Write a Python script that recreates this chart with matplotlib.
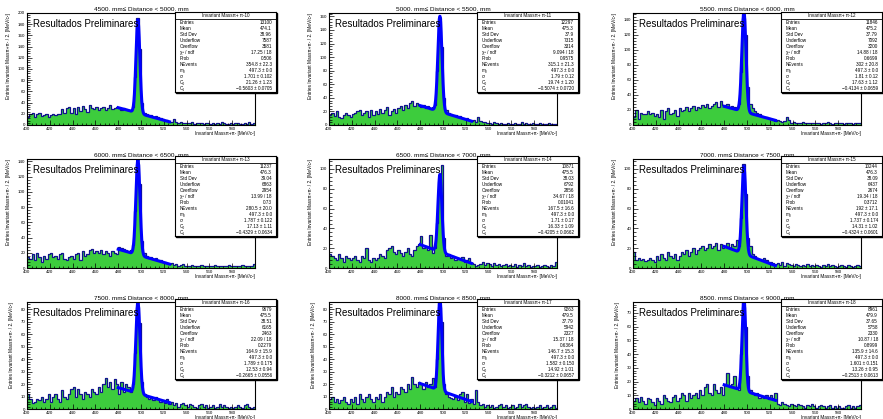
import numpy as np
import matplotlib.pyplot as plt
from matplotlib.ticker import MultipleLocator, AutoMinorLocator
from matplotlib.patches import Rectangle

plt.rcParams['font.family'] = ['Liberation Sans', 'DejaVu Sans']

W, H = 883, 419
edges = np.arange(400, 602, 2)

dist_lo = [4500, 5000, 5500, 6000, 6500, 7000, 7500, 8000, 8500]
hist_id = [10, 11, 12, 13, 14, 15, 16, 17, 18]

# bin contents (2 MeV bins, 400-600)
counts_1 = [15, 20, 22, 14, 20, 22, 16, 18, 20, 15,
            18, 20, 17, 19, 20, 28, 22, 30, 33, 22,
            30, 20, 32, 25, 34, 28, 24, 35, 30, 28,
            32, 26, 30, 33, 27, 31, 35, 28, 30, 33,
            30, 27, 30, 28, 26, 25, 32, 85, 191, 135,
            40, 22, 20, 18, 17, 15, 16, 14, 13, 10,
            8, 9, 6, 5, 10, 5, 4, 6, 3, 4,
            4, 3, 5, 2, 3, 4, 3, 2, 4, 3,
            2, 3, 1, 4, 2, 5, 3, 2, 1, 3,
            2, 3, 4, 2, 1, 3, 2, 6, 2, 3]
counts_2 = [15, 18, 13, 20, 12, 10, 15, 18, 14, 12,
            16, 18, 20, 22, 14, 18, 20, 12, 22, 15,
            20, 16, 24, 18, 22, 26, 15, 20, 24, 18,
            25, 28, 22, 30, 25, 32, 35, 28, 33, 30,
            26, 30, 25, 28, 24, 26, 30, 80, 158, 115,
            40, 22, 18, 16, 15, 14, 12, 13, 10, 9,
            10, 8, 6, 7, 5, 12, 6, 4, 5, 3,
            3, 2, 4, 3, 2, 3, 1, 2, 3, 2,
            2, 3, 1, 2, 4, 2, 3, 1, 2, 3,
            2, 1, 3, 2, 2, 1, 3, 2, 1, 2]
counts_3 = [10, 20, 8, 16, 14, 15, 18, 14, 16, 12,
            15, 10, 20, 8, 18, 22, 14, 16, 20, 12,
            22, 18, 20, 24, 18, 22, 25, 20, 24, 22,
            26, 24, 28, 22, 25, 28, 30, 24, 32, 27,
            26, 28, 22, 25, 24, 22, 28, 70, 142, 120,
            50, 28, 22, 18, 16, 14, 12, 10, 10, 9,
            8, 6, 5, 6, 5, 4, 5, 10, 6, 3,
            4, 3, 2, 3, 4, 2, 3, 2, 3, 2,
            3, 2, 1, 2, 3, 4, 2, 1, 2, 3,
            2, 3, 1, 2, 3, 2, 1, 2, 3, 2]
counts_4 = [15, 12, 18, 10, 20, 15, 8, 16, 12, 18,
            20, 14, 16, 12, 18, 20, 12, 10, 14, 16,
            12, 18, 20, 10, 22, 16, 18, 24, 25, 20,
            22, 20, 24, 18, 22, 20, 16, 22, 20, 18,
            28, 26, 25, 24, 22, 24, 30, 75, 136, 110,
            35, 20, 16, 15, 14, 12, 13, 11, 10, 8,
            8, 6, 5, 6, 4, 5, 3, 4, 5, 3,
            2, 3, 4, 2, 3, 2, 4, 3, 2, 3,
            3, 2, 4, 3, 2, 3, 2, 3, 4, 2,
            3, 2, 3, 2, 4, 3, 2, 3, 2, 5]
counts_5 = [14, 12, 10, 8, 14, 10, 6, 12, 10, 8,
            10, 12, 8, 6, 12, 10, 20, 8, 6, 10,
            8, 10, 14, 12, 10, 18, 20, 22, 16, 14,
            18, 15, 12, 16, 20, 14, 12, 18, 22, 24,
            32, 20, 22, 18, 33, 15, 20, 45, 80, 104,
            30, 12, 14, 10, 12, 8, 10, 9, 11, 6,
            8, 10, 5, 4, 2, 3, 4, 6, 3, 5,
            4, 2, 5, 3, 4, 2, 3, 4, 2, 3,
            2, 4, 1, 3, 2, 5, 2, 3, 1, 2,
            2, 3, 1, 2, 3, 2, 1, 3, 2, 6]
counts_6 = [16, 8, 10, 8, 9, 7, 8, 10, 8, 6,
            12, 8, 14, 10, 8, 16, 12, 10, 14, 8,
            12, 16, 14, 18, 12, 16, 20, 14, 18, 20,
            22, 18, 20, 24, 20, 22, 25, 18, 24, 20,
            22, 25, 20, 24, 22, 28, 22, 50, 105, 75,
            30, 22, 14, 12, 10, 9, 8, 10, 8, 6,
            6, 5, 4, 5, 3, 6, 2, 5, 4, 3,
            2, 4, 3, 2, 3, 2, 4, 2, 3, 2,
            3, 2, 1, 3, 2, 4, 2, 3, 2, 1,
            2, 3, 2, 1, 3, 2, 1, 2, 3, 2]
counts_7 = [12, 8, 5, 6, 8, 7, 10, 6, 8, 12,
            6, 10, 12, 8, 6, 15, 10, 8, 12, 16,
            18, 10, 16, 12, 8, 14, 12, 10, 16, 14,
            12, 18, 14, 20, 25, 18, 22, 16, 24, 20,
            12, 22, 14, 20, 18, 14, 20, 45, 82, 69,
            22, 12, 10, 8, 9, 7, 10, 8, 6, 7,
            5, 8, 4, 6, 3, 5, 2, 4, 5, 3,
            2, 4, 3, 2, 1, 3, 4, 2, 3, 1,
            2, 3, 1, 2, 4, 2, 3, 2, 1, 2,
            1, 2, 3, 2, 1, 3, 4, 2, 1, 2]
counts_8 = [8, 10, 6, 8, 5, 7, 10, 6, 4, 8,
            6, 10, 4, 12, 8, 6, 10, 12, 8, 6,
            10, 8, 12, 6, 10, 14, 12, 18, 10, 14,
            12, 18, 16, 14, 20, 16, 26, 20, 18, 22,
            20, 16, 22, 18, 20, 25, 18, 40, 82, 70,
            20, 12, 10, 9, 8, 10, 7, 12, 14, 6,
            12, 5, 8, 4, 15, 6, 3, 4, 2, 3,
            2, 3, 1, 2, 3, 4, 2, 3, 1, 2,
            3, 1, 2, 4, 2, 3, 4, 2, 1, 2,
            1, 2, 3, 1, 2, 3, 1, 2, 3, 1]
counts_9 = [6, 8, 5, 9, 6, 4, 8, 7, 5, 3,
            8, 6, 4, 10, 8, 6, 5, 9, 10, 6,
            8, 12, 10, 6, 12, 8, 10, 12, 8, 14,
            10, 16, 18, 12, 10, 18, 14, 12, 16, 10,
            18, 26, 16, 18, 24, 15, 14, 40, 74, 60,
            24, 14, 12, 10, 12, 8, 9, 8, 10, 7,
            10, 8, 12, 4, 3, 5, 4, 3, 2, 4,
            3, 2, 4, 3, 2, 1, 3, 2, 4, 2,
            1, 2, 3, 2, 1, 2, 3, 1, 2, 1,
            2, 1, 1, 2, 3, 1, 2, 1, 2, 3]
counts = [counts_1, counts_2, counts_3, counts_4, counts_5,
          counts_6, counts_7, counts_8, counts_9]

# stats box values
entries = [13100, 12297, 11846, 11237, 10871, 10244, 9679, 9263, 8961]
means = ['474.1', '475.3', '475.2', '476.3', '475.5', '476.3', '475.5', '479.5', '479.9']
stddevs = ['38.96', '37.9', '37.79', '39.04', '38.03', '38.09', '38.51', '37.79', '37.65']
underflow = [7587, 7315, 7092, 6863, 6792, 6437, 6165, 5942, 5758]
overflow = [3581, 3314, 3200, 2954, 2856, 2674, 2463, 2327, 2330]
chi2 = ['17.25', '9.094', '14.88', '13.99', '34.67', '19.34', '22.09', '15.37', '10.87']
prob = ['0.506', '0.9575', '0.6699', '0.73', '0.01041', '0.3712', '0.2279', '0.6364', '0.8999']

# fit parameters
nevents = [354.8, 315.1, 302, 280.5, 167.5, 192, 164.9, 146.7, 135.9]
nevents_err = ['22.3', '21.3', '20.8', '20.0', '16.6', '17.1', '15.9', '15.3', '14.6']
m0 = [497.3] * 9
sigma = [1.701, 1.79, 1.81, 1.787, 1.71, 1.737, 1.789, 1.582, 1.601]
sigma_err = ['0.102', '0.12', '0.12', '0.122', '0.17', '0.174', '0.175', '0.150', '0.151']
c0 = [21.26, 19.74, 17.63, 17.13, 16.33, 14.31, 12.53, 14.92, 13.26]
c0_err = ['1.23', '1.20', '1.12', '1.11', '1.09', '1.02', '0.94', '1.01', '0.95']
c1 = [-0.5603, -0.5074, -0.4134, -0.4329, -0.4205, -0.4324, -0.2665, -0.3212, -0.2513]
c1_err = ['0.0705', '0.0720', '0.0659', '0.0634', '0.0662', '0.0601', '0.0556', '0.0657', '0.0613']

ymax = [200, 165, 149, 143, 110, 110, 86, 86, 78]
ystep = [20, 20, 20, 20, 20, 20, 10, 10, 10]

green = '#3dcc3d'
navy = '#101090'

col_left = [27, 329, 633]
row_top = [13, 159, 302]
row_bot = [125, 268, 409]
ax_w = 228

fig = plt.figure(figsize=(W / 100, H / 100), dpi=100)

for i in range(9):
    r, c = i // 3, i % 3
    x0, y0, y1 = col_left[c], row_top[r], row_bot[r]
    ax = fig.add_axes([x0 / W, 1 - y1 / H, ax_w / W, (y1 - y0) / H])

    ax.stairs(counts[i], edges, fill=True, color=green, lw=0)
    ax.stairs(counts[i], edges, color=navy, lw=0.9)

    xf = np.linspace(480, 525, 400)
    gauss = nevents[i] * 2 / (np.sqrt(2 * np.pi) * sigma[i]) * np.exp(-0.5 * ((xf - m0[i]) / sigma[i]) ** 2)
    ax.plot(xf, gauss + c0[i] + c1[i] * (xf - m0[i]), color='#0000ff', lw=2.2)

    ax.set_xlim(400, 600)
    ax.set_ylim(0, ymax[i])
    ax.xaxis.set_major_locator(MultipleLocator(20))
    ax.xaxis.set_minor_locator(AutoMinorLocator(5))
    ax.yaxis.set_major_locator(MultipleLocator(ystep[i]))
    ax.yaxis.set_minor_locator(AutoMinorLocator(5))
    ax.tick_params(which='both', direction='in', labelsize=3.2, pad=1.2, width=0.5)
    ax.tick_params(which='major', length=3.5)
    ax.tick_params(which='minor', length=1.8)
    ax.set_xticks([t for t in range(400, 600, 20)])
    for s in ax.spines.values():
        s.set_linewidth(0.8)

    ax.set_xlabel('Invariant Mass\u03c0+\u03c0- [MeV/c\u00b2]', fontsize=3.3, loc='right', labelpad=0.3)
    ax.set_ylabel('Entries Invariant Mass\u03c0+\u03c0- / 2. [MeV/c\u00b2]', fontsize=3.4, loc='top', labelpad=5)
    ax.set_title('%d. mm\u2264 Distance < %d. mm' % (dist_lo[i], dist_lo[i] + 500), fontsize=4.6, pad=1.5)
    ax.text(0.025, 0.9, 'Resultados Preliminares', transform=ax.transAxes, fontsize=7, va='center')

    # stats box
    bx0, by0, bw, bh = x0 + 148, y0 - 1 if r == 0 else y0 - 3, 101, 80
    shadow = Rectangle(((bx0 + 1.2) / W, 1 - (by0 + bh + 1.2) / H), bw / W, bh / H,
                       transform=fig.transFigure, color='black', zorder=5)
    fig.patches.append(shadow)
    box = fig.add_axes([bx0 / W, 1 - (by0 + bh) / H, bw / W, bh / H], zorder=6)
    box.set_xlim(0, 1)
    box.set_ylim(0, bh)
    box.set_xticks([])
    box.set_yticks([])
    for s in box.spines.values():
        s.set_linewidth(0.8)
    box.axhline(bh - 6.8, color='black', lw=0.6)
    box.text(0.5, bh - 3.4, 'Invariant Mass\u03c0+ \u03c0-%d' % hist_id[i], ha='center', va='center', fontsize=3.3)
    rows = [('Entries', str(entries[i])),
            ('Mean', means[i]),
            ('Std Dev', stddevs[i]),
            ('Underflow', str(underflow[i])),
            ('Overflow', str(overflow[i])),
            ('\u03c7\u00b2 / ndf', chi2[i] + ' / 18'),
            ('Prob', prob[i]),
            ('NEvents', '%g \u00b1 %s' % (nevents[i], nevents_err[i])),
            ('m\u2080', '%.1f \u00b1 0.0' % m0[i]),
            ('\u03c3', '%g \u00b1 %s' % (sigma[i], sigma_err[i])),
            ('C\u2080', '%.2f \u00b1 %s' % (c0[i], c0_err[i])),
            ('C\u2081', '\u2212%.4f \u00b1 %s' % (-c1[i], c1_err[i]))]
    step = (bh - 7.5) / len(rows)
    for k, (lab, val) in enumerate(rows):
        yy = bh - 7.5 - step * (k + 0.5)
        box.text(0.05, yy, lab, ha='left', va='center', fontsize=3.3)
        box.text(0.96, yy, val, ha='right', va='center', fontsize=3.3)

fig.savefig('out.png', dpi=100)
